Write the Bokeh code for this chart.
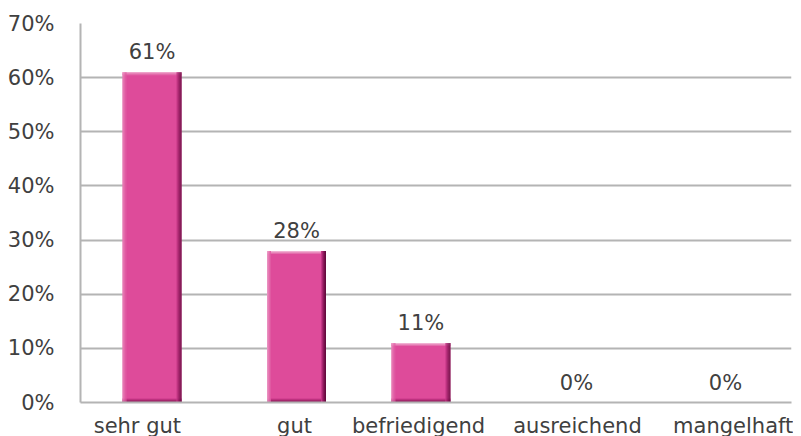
from bokeh.plotting import figure
from bokeh.models import Range1d, FixedTicker, ColumnDataSource
from bokeh.embed import file_html
from bokeh.resources import INLINE
from bokeh.core.properties import value

categories = ["sehr gut", "gut", "befriedigend", "ausreichend", "mangelhaft"]
values = [61, 28, 11, 0, 0]
y_ticks = [0, 10, 20, 30, 40, 50, 60, 70]
y_tick_labels = ["0%", "10%", "20%", "30%", "40%", "50%", "60%", "70%"]

FONT = "DejaVu Sans"
FS = "21px"
TXT = "#404040"
FW, FH = 711, 379
N = len(categories)
YMAX = 70
pxx = N / FW      # data units per pixel (x)
pxy = YMAX / FH   # data units per pixel (y)
# layout nudges (offsets within each category slot)
bar_nudge = [0.003, 0.019, -0.106, -0.012, 0.036]
label_nudge = [-0.10, 0.005, -0.123, -0.005, 0.09]
centers = [i + 0.5 + bar_nudge[i] for i in range(N)]
label_pos = [i + 0.5 + label_nudge[i] for i in range(N)]
bw = 59 * pxx

p = figure(frame_width=FW, frame_height=FH, output_backend="svg", toolbar_location=None,
           x_range=Range1d(0, N), y_range=Range1d(0, YMAX),
           min_border_left=80, min_border_top=23, min_border_right=2, min_border_bottom=30)
p.outline_line_color = None
p.background_fill_color = "white"
p.border_fill_color = "white"

# grid
p.xgrid.visible = False
p.ygrid.ticker = FixedTicker(ticks=y_ticks)
p.ygrid.grid_line_color = "#b4b4b4"
p.ygrid.grid_line_width = 2

# y axis
p.yaxis.ticker = FixedTicker(ticks=y_ticks)
p.yaxis.major_label_overrides = {t: l for t, l in zip(y_ticks, y_tick_labels)}
p.yaxis.axis_line_color = "#b4b4b4"
p.yaxis.axis_line_width = 2
p.yaxis.major_tick_line_color = None
p.yaxis.minor_tick_line_color = None
p.yaxis.major_label_standoff = 20
p.yaxis.major_label_text_font = FONT
p.yaxis.major_label_text_font_size = FS
p.yaxis.major_label_text_color = TXT

# x axis
p.xaxis.ticker = FixedTicker(ticks=label_pos)
p.xaxis.major_label_overrides = {c: l for c, l in zip(label_pos, categories)}
p.xaxis.axis_line_color = "#b4b4b4"
p.xaxis.axis_line_width = 2
p.xaxis.major_tick_line_color = None
p.xaxis.minor_tick_line_color = None
p.xaxis.major_label_standoff = 5
p.xaxis.major_label_text_font = FONT
p.xaxis.major_label_text_font_size = FS
p.xaxis.major_label_text_color = TXT

# bars: main fill
left = [c - bw / 2 for c in centers]
right = [c + bw / 2 for c in centers]
src = ColumnDataSource(dict(x=centers, top=values, left=left, right=right,
                            lab=[f"{v}%" for v in values]))
p.quad(left="left", right="right", bottom=0, top="top", source=src,
       fill_color="#DE4B9A", line_color=None)

# shading strips to imitate the 3D bevel
bars = [(l, r, v) for l, r, v in zip(left, right, values) if v > 0]
left_cols = ["#EC9AC5", "#E885B9", "#E46FAD", "#E05DA3"]
right_cols = ["#C53787", "#A82670", "#8E1A5C", "#78104B", "#660B40"]
top_cols = ["#F0B0D2", "#E98CBD", "#E36EAC"]
bot_cols = ["#C9398A", "#A5246D", "#881857", "#6E0E45"]
for l, r, v in bars:
    for k, col in enumerate(top_cols):
        p.quad(left=l, right=r, top=v - k * pxy, bottom=v - (k + 1) * pxy,
               fill_color=col, line_color=None)
    for k, col in enumerate(bot_cols):
        p.quad(left=l, right=r, top=(len(bot_cols) - k) * pxy, bottom=(len(bot_cols) - k - 1) * pxy,
               fill_color=col, line_color=None)
    for k, col in enumerate(left_cols):
        p.quad(left=l + k * pxx, right=l + (k + 1) * pxx, top=v, bottom=0,
               fill_color=col, line_color=None, fill_alpha=0.85)
    for k, col in enumerate(right_cols):
        p.quad(left=r - (len(right_cols) - k) * pxx, right=r - (len(right_cols) - k - 1) * pxx,
               top=v, bottom=0, fill_color=col, line_color=None)

# value labels
p.text(x="x", y="top", text="lab", source=src, text_align="center", text_baseline="bottom",
       y_offset=-8, text_font=value(FONT), text_font_size=FS, text_color=TXT)

open("out.html", "w").write(file_html(p, INLINE))
